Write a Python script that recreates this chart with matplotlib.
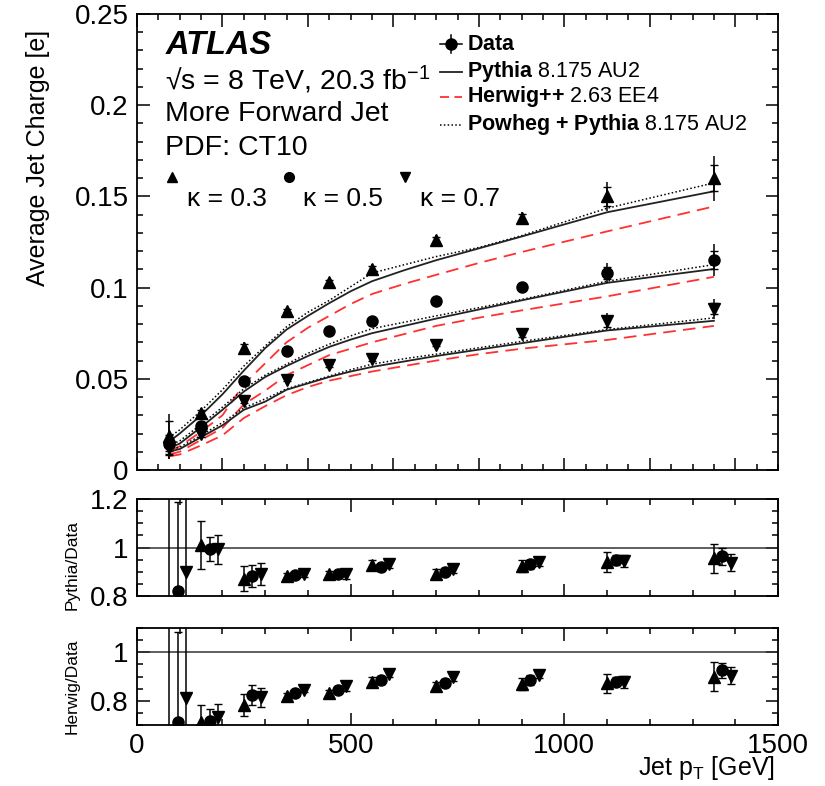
import numpy as np
import matplotlib
matplotlib.use("Agg")
import matplotlib.pyplot as plt
from matplotlib.ticker import MultipleLocator, NullFormatter

plt.rcParams["font.family"] = ["Liberation Sans", "DejaVu Sans"]
plt.rcParams["mathtext.fontset"] = "custom"
plt.rcParams["mathtext.rm"] = "Liberation Sans"
plt.rcParams["mathtext.bf"] = "Liberation Sans:bold"
plt.rcParams["mathtext.it"] = "Liberation Sans:italic"

# ---- data ----
pt = [75, 150, 250, 350, 450, 550, 700, 900, 1100, 1350]

data_k03 = [0.0186, 0.031, 0.067, 0.0874, 0.103, 0.110, 0.126, 0.138, 0.150, 0.160]
data_k05 = [0.014, 0.024, 0.049, 0.065, 0.076, 0.0816, 0.0925, 0.1004, 0.108, 0.115]
data_k07 = [0.012, 0.0195, 0.038, 0.0496, 0.0573, 0.061, 0.0688, 0.0743, 0.0816, 0.0883]

tot_k03 = [0.012, 0.003, 0.003, 0.0015, 0.0015, 0.003, 0.003, 0.0037, 0.0078, 0.0123]
stat_k03 = [0.008, 0.002, 0.002, 0.001, 0.001, 0.002, 0.002, 0.0025, 0.005, 0.0073]
tot_k05 = [0.008, 0.002, 0.002, 0.0012, 0.0012, 0.0015, 0.0015, 0.002, 0.0055, 0.0087]
stat_k05 = [0.005, 0.0015, 0.0015, 0.0008, 0.0008, 0.001, 0.001, 0.0015, 0.0035, 0.005]
tot_k07 = [0.006, 0.002, 0.002, 0.001, 0.001, 0.0015, 0.0015, 0.002, 0.0045, 0.0055]
stat_k07 = [0.004, 0.0015, 0.0015, 0.0008, 0.0008, 0.001, 0.001, 0.0015, 0.003, 0.003]

# MC curves
pt_mc = [75, 100, 150, 200, 250, 300, 350, 400, 450, 500, 550, 625, 700, 800, 900, 1100, 1350]
pyth_k03 = [0.0155, 0.020, 0.030, 0.0415, 0.0545, 0.0668, 0.077, 0.0845, 0.0915, 0.098, 0.1035, 0.1095, 0.1150, 0.1215, 0.128, 0.1413, 0.1528]
pyth_k05 = [0.012, 0.0145, 0.0235, 0.033, 0.043, 0.051, 0.057, 0.0625, 0.0675, 0.0715, 0.075, 0.079, 0.0830, 0.088, 0.093, 0.1026, 0.1102]
pyth_k07 = [0.0100, 0.0115, 0.018, 0.0245, 0.033, 0.0375, 0.044, 0.0475, 0.051, 0.054, 0.0565, 0.0595, 0.0625, 0.066, 0.0695, 0.0765, 0.0818]
herw_k03 = [0.0105, 0.013, 0.021, 0.030, 0.047, 0.0585, 0.0700, 0.0780, 0.0845, 0.091, 0.0965, 0.102, 0.1070, 0.1135, 0.1195, 0.1308, 0.1445]
herw_k05 = [0.0085, 0.010, 0.0165, 0.023, 0.036, 0.0435, 0.052, 0.0575, 0.063, 0.0665, 0.070, 0.0745, 0.079, 0.0835, 0.0875, 0.0952, 0.1059]
herw_k07 = [0.0075, 0.0085, 0.0135, 0.019, 0.0285, 0.035, 0.041, 0.0455, 0.049, 0.0515, 0.054, 0.057, 0.060, 0.0635, 0.0665, 0.0713, 0.0790]
powh_k03 = [0.018, 0.022, 0.0325, 0.044, 0.057, 0.068, 0.0785, 0.0865, 0.093, 0.1005, 0.108, 0.1125, 0.117, 0.122, 0.1285, 0.1435, 0.1574]
powh_k05 = [0.0135, 0.016, 0.025, 0.0345, 0.0445, 0.052, 0.058, 0.064, 0.069, 0.0735, 0.0775, 0.081, 0.0845, 0.089, 0.0935, 0.1035, 0.1126]
powh_k07 = [0.011, 0.0125, 0.019, 0.026, 0.034, 0.039, 0.0445, 0.048, 0.0515, 0.055, 0.058, 0.061, 0.0635, 0.067, 0.0705, 0.077, 0.0834]

# ratios
pd_k03 = [0.70, 1.010, 0.872, 0.883, 0.890, 0.927, 0.892, 0.924, 0.940, 0.956]
pd_k05 = [0.819, 0.993, 0.883, 0.887, 0.890, 0.919, 0.900, 0.930, 0.948, 0.963]
pd_k07 = [0.899, 0.993, 0.892, 0.890, 0.892, 0.930, 0.910, 0.940, 0.943, 0.938]
pd_err03 = [0.6, 0.1, 0.05, 0.01, 0.012, 0.02, 0.02, 0.025, 0.04, 0.06]
pd_err05 = [0.37, 0.05, 0.045, 0.01, 0.015, 0.015, 0.015, 0.02, 0.02, 0.035]
pd_err07 = [0.6, 0.06, 0.045, 0.01, 0.02, 0.015, 0.015, 0.015, 0.025, 0.035]

hd_k03 = [0.60, 0.714, 0.783, 0.820, 0.831, 0.877, 0.859, 0.870, 0.872, 0.900]
hd_k05 = [0.714, 0.718, 0.824, 0.834, 0.845, 0.886, 0.875, 0.886, 0.879, 0.925]
hd_k07 = [0.813, 0.732, 0.814, 0.845, 0.861, 0.911, 0.897, 0.907, 0.879, 0.903]
hd_err03 = [0.6, 0.07, 0.045, 0.01, 0.012, 0.02, 0.02, 0.025, 0.04, 0.06]
hd_err05 = [0.37, 0.05, 0.04, 0.01, 0.015, 0.015, 0.015, 0.02, 0.02, 0.03]
hd_err07 = [0.6, 0.055, 0.04, 0.01, 0.02, 0.015, 0.015, 0.015, 0.025, 0.035]

markers = ["^", "o", "v"]
kappa_labels = ["\u03ba = 0.3", "\u03ba = 0.5", "\u03ba = 0.7"]
ratio_shift = [0, 20, 40]

W, H = 825, 786
fig = plt.figure(figsize=(W / 100, H / 100), dpi=100)


def box(l, t, r, b):
    return [l / W, 1 - b / H, (r - l) / W, (b - t) / H]


ax = fig.add_axes(box(137, 14, 778, 470))
ax1 = fig.add_axes(box(137, 499, 778, 596))
ax2 = fig.add_axes(box(137, 628, 778, 725))

RED = "#ff3030"
for d, tot, st, py, hw, pw, m in zip(
    [data_k03, data_k05, data_k07],
    [tot_k03, tot_k05, tot_k07],
    [stat_k03, stat_k05, stat_k07],
    [pyth_k03, pyth_k05, pyth_k07],
    [herw_k03, herw_k05, herw_k07],
    [powh_k03, powh_k05, powh_k07],
    markers,
):
    ax.plot(pt_mc, hw, color=RED, lw=1.3, dashes=(7, 4))
    ax.plot(pt_mc, pw, color="k", lw=1.1, ls=(0, (1, 1.5)))
    ax.plot(pt_mc, py, color="#222222", lw=1.3)
    ax.errorbar(pt, d, yerr=tot, fmt="none", ecolor="k", elinewidth=1.1, capsize=0)
    ax.errorbar(pt, d, yerr=st, fmt="none", ecolor="k", elinewidth=1.1, capsize=3, capthick=1)
    ax.plot(pt, d, ls="none", marker=m, ms=8, color="k")

ax.set_xlim(0, 1500)
ax.set_ylim(0, 0.25)
ax.xaxis.set_major_locator(MultipleLocator(200))
ax.xaxis.set_minor_locator(MultipleLocator(50))
ax.xaxis.set_major_formatter(NullFormatter())
ax.yaxis.set_minor_locator(MultipleLocator(0.01))
ax.set_yticks([0, 0.05, 0.1, 0.15, 0.2, 0.25])
ax.set_yticklabels(["0", "0.05", "0.1", "0.15", "0.2", "0.25"])

for a, vals, errs, lab in [
    (ax1, [pd_k03, pd_k05, pd_k07], [pd_err03, pd_err05, pd_err07], "Pythia/Data"),
    (ax2, [hd_k03, hd_k05, hd_k07], [hd_err03, hd_err05, hd_err07], "Herwig/Data"),
]:
    a.axhline(1, color="#333333", lw=1.1)
    for v, e, m, s in zip(vals, errs, markers, ratio_shift):
        xs = [p + s for p in pt]
        a.errorbar(xs, v, yerr=e, fmt="none", ecolor="k", elinewidth=1.1, capsize=3, capthick=1)
        a.plot(xs, v, ls="none", marker=m, ms=8, color="k")
    a.set_xlim(0, 1500)
    a.xaxis.set_major_locator(MultipleLocator(500))
    a.xaxis.set_minor_locator(MultipleLocator(100))
    a.yaxis.set_minor_locator(MultipleLocator(0.05))
    a.set_yticks([0.8, 1.0, 1.2] if a is ax1 else [0.8, 1.0])
    a.set_yticklabels(["0.8", "1", "1.2"] if a is ax1 else ["0.8", "1"])
    fig.text(72 / W, 1 - (565 if a is ax1 else 686) / H, lab, rotation=90,
             ha="center", va="center", fontsize=12.5)

ax1.set_ylim(0.8, 1.2)
ax2.set_ylim(0.7, 1.1)
ax1.xaxis.set_major_formatter(NullFormatter())
ax2.set_xticks([0, 500, 1000, 1500])
ax2.set_xticklabels(["0", "500", "1000", "1500"])

for a in (ax, ax1, ax2):
    a.tick_params(which="both", direction="in", top=True, right=True, labelsize=20, width=1.1, pad=6)
    a.tick_params(which="major", length=9)
    a.tick_params(which="minor", length=4.5)
    for sp in a.spines.values():
        sp.set_linewidth(1.3)

fig.text(38 / W, 1 - 158 / H, "Average Jet Charge [e]", rotation=90, ha="center", va="center", fontsize=18)
fig.text(775 / W, 1 - 768 / H, "Jet p$_{\\mathrm{T}}$ [GeV]", ha="right", va="center", fontsize=18)

# text block
ax.text(0.044, 0.932, "ATLAS", transform=ax.transAxes, fontsize=23.5, fontweight="bold",
        fontstyle="italic", va="center")
ax.text(0.044, 0.855, "\u221as = 8 TeV, 20.3 fb$^{-1}$", transform=ax.transAxes, fontsize=20.5, va="center")
ax.text(0.044, 0.781, "More Forward Jet", transform=ax.transAxes, fontsize=20.5, va="center")
ax.text(0.044, 0.706, "PDF: CT10", transform=ax.transAxes, fontsize=20.5, va="center")

# kappa key
for xm, xt, m, lab in zip([0.0546, 0.237, 0.418], [0.078, 0.259, 0.4415], markers, kappa_labels):
    ax.plot([xm], [0.6425], marker=m, ms=7, color="k", transform=ax.transAxes, clip_on=False)
    ax.text(xt, 0.594, lab, transform=ax.transAxes, fontsize=19, va="center")

# legend
ly = [0.934, 0.873, 0.818, 0.757]
lx0, lx1, ltx = 0.473, 0.507, 0.515
ax.plot([lx0, lx1], [ly[0], ly[0]], color="k", lw=1.1, transform=ax.transAxes)
ax.plot([(lx0 + lx1) / 2] * 2, [ly[0] - 0.02, ly[0] + 0.02], color="k", lw=1.1, transform=ax.transAxes)
ax.plot([(lx0 + lx1) / 2], [ly[0]], marker="o", ms=8, color="k", transform=ax.transAxes)
ax.plot([lx0, lx1], [ly[1], ly[1]], color="#222222", lw=1.3, transform=ax.transAxes)
ax.plot([lx0, lx1], [ly[2], ly[2]], color=RED, lw=1.3, dashes=(5, 3), transform=ax.transAxes)
ax.plot([lx0, lx1], [ly[3], ly[3]], color="k", lw=1.1, ls=(0, (1, 1.5)), transform=ax.transAxes)
leg_text = [
    "$\\mathbf{Data}$",
    "$\\mathbf{Pythia}$ 8.175 AU2",
    "$\\mathbf{Herwig{+}{+}}$ 2.63 EE4",
    "$\\mathbf{Powheg}$ $\\mathbf{+}$ $\\mathbf{Pythia}$ 8.175 AU2",
]
for y, t in zip(ly, leg_text):
    ax.text(ltx, y, t, transform=ax.transAxes, fontsize=15.5, va="center")

fig.savefig("out.png", dpi=100)
